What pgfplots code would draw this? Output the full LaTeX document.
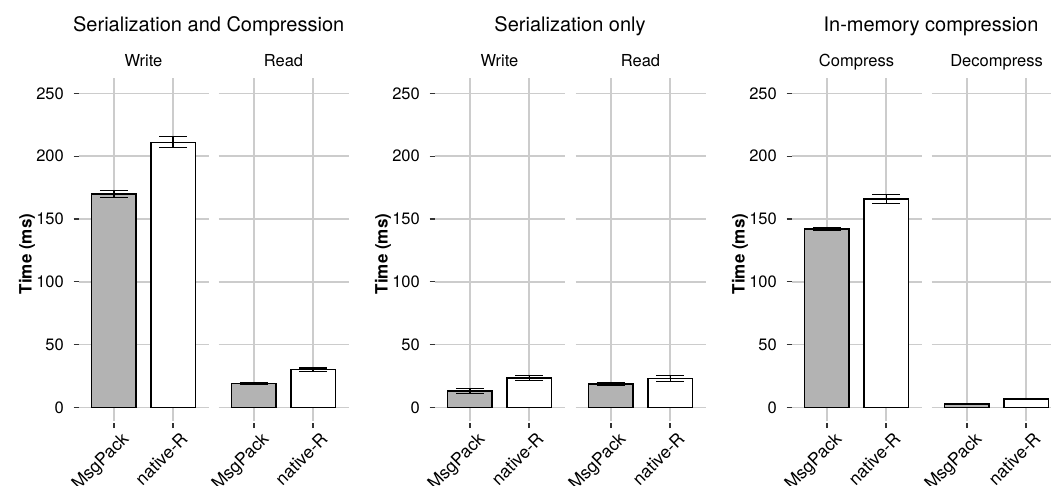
\documentclass[border=0pt]{standalone}
\usepackage{pgfplots}
\pgfplotsset{compat=1.18}
\usepackage{fontspec}
\setmainfont{TeX Gyre Heros}
\definecolor{gridc}{HTML}{CCCCCC}
\definecolor{tickc}{HTML}{333333}
\definecolor{barg}{HTML}{B3B3B3}

\pgfplotsset{
 facet/.style={
  scale only axis, width=130pt, height=343pt,
  xmin=0.4, xmax=2.6, ymin=-10.74, ymax=262.2,
  anchor=south west,
  axis line style={draw=none},
  xtick={1,2}, xticklabels={MsgPack,native-R},
  ytick={0,50,100,150,200,250},
  xmajorgrids, ymajorgrids,
  major grid style={gridc, line width=1.6pt},
  tick align=outside, xtick pos=bottom, ytick pos=left,
  major tick length=5pt,
  xtick style={tickc, line width=1.2pt, yshift=-2pt},
  ytick style={tickc, line width=1.2pt},
  ticklabel style={font=\fontsize{16.5}{18}\selectfont, text=black},
  xticklabel style={font=\fontsize{17.5}{19}\selectfont, xshift=6.5pt, yshift=-5pt, rotate=45, anchor=north east, inner sep=0pt},
  yticklabel style={inner sep=0pt, anchor=east, xshift=-9.5pt},
  /pgf/number format/assume math mode=true,
  ybar, bar width=0.75, bar shift=0pt,
  error bars/y dir=both, error bars/y explicit,
  error bars/error bar style={black, line width=1.1pt},
  error bars/error mark options={rotate=90, black, line width=1.1pt, mark size=14pt},
  clip=false,
 },
 leftfacet/.style={facet},
 rightfacet/.style={facet, yticklabels={}, ytick style={draw=none}},
 msg/.style={fill=barg, draw=black, line width=1.3pt, bar shift=0pt},
 nat/.style={fill=white, draw=black, line width=1.3pt, bar shift=0pt},
}

\begin{document}
\begin{tikzpicture}[x=1pt,y=1pt]
\path[use as bounding box] (0,0) rectangle (1051,485);

% ---------- Panel 1 ----------
\begin{axis}[leftfacet, at={(78.5pt,64pt)}]
\addplot[msg] coordinates {(1,169.9) +- (0,2.5)};
\addplot[nat] coordinates {(2,211.1) +- (0,4.2)};
\end{axis}
\begin{axis}[rightfacet, at={(218.5pt,64pt)}]
\addplot[msg] coordinates {(1,19.3) +- (0,0.9)};
\addplot[nat] coordinates {(2,30.2) +- (0,1.2)};
\end{axis}

% ---------- Panel 2 ----------
\begin{axis}[leftfacet, at={(434.5pt,64pt)}]
\addplot[msg] coordinates {(1,13.2) +- (0,2.0)};
\addplot[nat] coordinates {(2,23.4) +- (0,2.2)};
\end{axis}
\begin{axis}[rightfacet, at={(575.5pt,64pt)}]
\addplot[msg] coordinates {(1,18.6) +- (0,1.0)};
\addplot[nat] coordinates {(2,23.3) +- (0,2.4)};
\end{axis}

% ---------- Panel 3 ----------
\begin{axis}[leftfacet, at={(791.5pt,64pt)}]
\addplot[msg] coordinates {(1,142.0) +- (0,0.8)};
\addplot[nat] coordinates {(2,165.9) +- (0,3.7)};
\end{axis}
\begin{axis}[rightfacet, at={(931.5pt,64pt)}]
\addplot[msg] coordinates {(1,2.8) +- (0,0.6)};
\addplot[nat] coordinates {(2,6.8) +- (0,0.3)};
\end{axis}

% ---------- Titles ----------
\begin{scope}[every node/.style={font=\fontsize{20}{24}\selectfont, anchor=base, inner sep=0pt}]
\node at (208.7,453.3) {Serialization and Compression};
\node at (570,453.3) {Serialization only};
\node at (931,453.3) {In-memory compression};
\end{scope}

% ---------- Strip labels ----------
\begin{scope}[every node/.style={font=\fontsize{16.5}{18}\selectfont, anchor=base, inner sep=0pt}]
\node at (143.5,418.3) {Write};
\node at (283.5,418.3) {Read};
\node at (499.5,418.3) {Write};
\node at (640.5,418.3) {Read};
\node at (856.5,418.3) {Compress};
\node at (996.5,418.3) {Decompress};
\end{scope}

% ---------- Y axis titles ----------
\begin{scope}[every node/.style={font=\fontsize{17}{20}\selectfont\bfseries, anchor=base, rotate=90, inner sep=0pt}]
\node at (31.5,231) {Time (ms)};
\node at (387.5,231) {Time (ms)};
\node at (744.5,231) {Time (ms)};
\end{scope}
\end{tikzpicture}
\end{document}
